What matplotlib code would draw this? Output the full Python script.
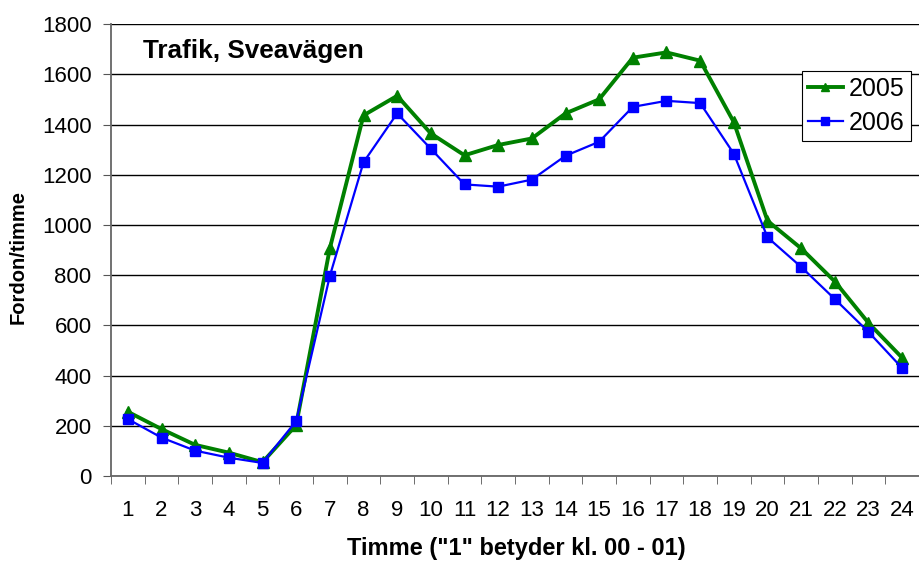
import matplotlib
matplotlib.use("Agg")
import matplotlib.pyplot as plt
import numpy as np

plt.rcParams['font.family'] = ['Liberation Sans', 'DejaVu Sans']

hours = list(range(1, 25))
y2005 = [256, 187, 124, 93, 55, 203, 907, 1437, 1515, 1365, 1278, 1319,
         1345, 1445, 1501, 1667, 1688, 1655, 1410, 1017, 907, 775, 610, 471]
y2006 = [227, 153, 101, 73, 52, 219, 797, 1250, 1445, 1304, 1162, 1153,
         1181, 1276, 1332, 1471, 1495, 1486, 1284, 951, 833, 705, 574, 430]

W, H = 919, 561
fig = plt.figure(figsize=(W / 100, H / 100), dpi=100)
ax = fig.add_axes([111 / W, (H - 476) / H, (919 - 111) / W, (476 - 24.3) / H])

ax.plot(hours, y2005, color='#008000', lw=2.8, marker='^', ms=8, label='2005', zorder=3)
ax.plot(hours, y2006, color='#0000FF', lw=1.6, marker='s', ms=7.5, label='2006', zorder=4)

ax.set_xlim(0.5, 24.5)
ax.set_ylim(0, 1800)
ax.set_yticks(np.arange(0, 1801, 200))
ax.yaxis.grid(True, color='black', lw=1)
ax.set_axisbelow(True)

ax.set_xticks(hours)
ax.set_xticks(np.arange(0.5, 25, 1), minor=True)
ax.tick_params(axis='x', which='major', length=0, pad=17, labelsize=16)
ax.tick_params(axis='x', which='minor', length=6, color='#555555')
ax.tick_params(axis='y', length=6, color='#555555', labelsize=16, pad=8)

for s in ['top', 'right']:
    ax.spines[s].set_visible(False)
for s in ['left', 'bottom']:
    ax.spines[s].set_color('#666666')
    ax.spines[s].set_linewidth(1.3)

fig.text(516 / W, 1 - 549 / H, 'Timme ("1" betyder kl. 00 - 01)', fontsize=17,
         fontweight='bold', ha='center', va='center')
fig.text(18 / W, 1 - 257 / H, 'Fordon/timme', fontsize=14.5, fontweight='bold',
         rotation=90, ha='center', va='center')

fig.text(143 / W, 1 - 51 / H, 'Trafik, Sveavägen', fontsize=18.8,
         fontweight='bold', va='center', ha='left')

leg = ax.legend(loc='upper right', bbox_to_anchor=((911 - 111) / 808, (476 - 71) / 451.7),
                fontsize=18, fancybox=False, edgecolor='black', framealpha=1,
                handlelength=1.4, handletextpad=0.25, borderpad=0.25,
                labelspacing=0.4, borderaxespad=0, markerscale=0.8)
leg.get_frame().set_linewidth(0.8)

fig.savefig('out.png', dpi=100)
